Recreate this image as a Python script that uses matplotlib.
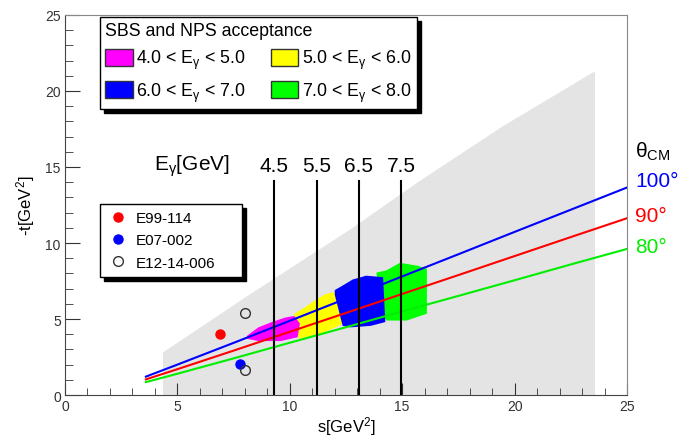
import matplotlib
matplotlib.use('Agg')
import matplotlib.pyplot as plt
from matplotlib.patches import Patch
from matplotlib.lines import Line2D

plt.rcParams['font.family'] = ['Liberation Sans', 'DejaVu Sans']
plt.rcParams['mathtext.fontset'] = 'custom'
plt.rcParams['mathtext.rm'] = 'Liberation Sans'
plt.rcParams['mathtext.it'] = 'Liberation Sans'
plt.rcParams['mathtext.bf'] = 'Liberation Sans:bold'

# kinematic coverage (grey band), upper edge
cov_s = [4.36, 8.0, 12.7, 15.8, 19.5, 23.58]
cov_t = [2.8, 6.4, 10.9, 14.1, 17.7, 21.3]

# theta_CM lines
line_s = [3.6, 5.0, 7.5, 10.0, 12.5, 15.0, 17.5, 20.0, 22.5, 25.0]
t_100 = [1.21, 2.00, 3.43, 4.88, 6.34, 7.80, 9.26, 10.73, 12.19, 13.65]
t_90 = [1.03, 1.70, 2.92, 4.16, 5.40, 6.65, 7.89, 9.14, 10.39, 11.63]
t_80 = [0.85, 1.40, 2.41, 3.44, 4.46, 5.50, 6.52, 7.55, 8.59, 9.61]

# SBS / NPS acceptance outlines per E_gamma bin
mag_s = [8.1, 8.6, 9.2, 9.8, 10.2, 10.45, 10.35, 9.6, 8.6, 8.1]
mag_t = [3.9, 4.45, 4.8, 5.1, 5.2, 4.7, 3.8, 3.55, 3.55, 3.7]
yel_s = [10.2, 10.6, 11.2, 11.6, 12.1, 12.4, 12.4, 11.5, 10.4]
yel_t = [5.35, 5.7, 6.3, 6.65, 6.8, 6.8, 4.7, 4.1, 3.7]
blu_s = [12.0, 12.0, 12.35, 12.8, 13.4, 14.15, 14.25, 13.6, 12.7, 12.35]
blu_t = [6.6, 6.9, 7.2, 7.6, 7.85, 7.75, 4.8, 4.55, 4.45, 4.55]
grn_s = [13.85, 14.3, 14.9, 15.7, 16.1, 16.1, 15.2, 14.3, 14.15]
grn_t = [8.05, 8.2, 8.7, 8.5, 8.3, 5.35, 4.9, 4.9, 5.2]

# beam energies and s
egam = ['4.5', '5.5', '6.5', '7.5']
egam_s = [9.32, 11.2, 13.07, 14.95]
vline_top = 14.1

# previous experiments
e99_s, e99_t = [6.9], [4.0]
e07_s, e07_t = [7.78], [2.04]
e12_s, e12_t = [8.0, 8.0], [5.39, 1.67]

fig = plt.figure(figsize=(6.79, 4.39), dpi=100)
ax = fig.add_axes([0.0957, 0.0979, 0.8277, 0.8657])

ax.fill(cov_s + [cov_s[-1], cov_s[0]], cov_t + [0, 0], color='#e4e4e4', lw=0, zorder=1)

ax.fill(grn_s, grn_t, color='#00ff00', lw=0, zorder=2)
ax.fill(yel_s, yel_t, color='#ffff00', lw=0, zorder=2)
ax.fill(blu_s, blu_t, color='#0000ff', lw=0, zorder=3)
ax.fill(mag_s, mag_t, color='#ff00ff', lw=0, zorder=3)

ax.plot(line_s, t_100, color='#0000ff', lw=1.5, zorder=4)
ax.plot(line_s, t_90, color='#ff0000', lw=1.5, zorder=4)
ax.plot(line_s, t_80, color='#00ee00', lw=1.5, zorder=4)

for s, e in zip(egam_s, egam):
    ax.plot([s, s], [0, vline_top], color='black', lw=1.5, zorder=5)
    ax.text(s, 15.1, e, ha='center', va='center', fontsize=15)
ax.text(5.65, 15.1, r'E$_{\gamma}$[GeV]', ha='center', va='center', fontsize=15)

ax.plot(e99_s, e99_t, 'o', color='#ff0000', ms=6.5, zorder=6)
ax.plot(e07_s, e07_t, 'o', color='#0000ff', ms=6.5, zorder=6)
ax.plot(e12_s, e12_t, 'o', mfc='none', mec='#333333', mew=1, ms=7, zorder=6)

ax.text(25.36, 16.07, r'$\theta_{\mathrm{CM}}$', ha='left', va='center', fontsize=15, clip_on=False)
ax.text(25.36, 14.08, '100°', color='#0000ff', ha='left', va='center', fontsize=15, clip_on=False)
ax.text(25.36, 11.8, '90°', color='#ff0000', ha='left', va='center', fontsize=15, clip_on=False)
ax.text(25.36, 9.76, '80°', color='#00ee00', ha='left', va='center', fontsize=15, clip_on=False)

ax.set_xlim(0, 25)
ax.set_ylim(0, 25)
ax.set_xticks(range(0, 26, 5))
ax.set_yticks(range(0, 26, 5))
ax.set_xticks(range(0, 26), minor=True)
ax.set_yticks(range(0, 26), minor=True)
ax.tick_params(which='both', direction='in', top=False, right=False, labelsize=10,
               colors='#333333', pad=3)
ax.tick_params(axis='x', which='major', length=9)
ax.tick_params(axis='x', which='minor', length=5)
ax.tick_params(axis='y', which='major', length=11)
ax.tick_params(axis='y', which='minor', length=6)
for side in ['left', 'bottom']:
    ax.spines[side].set_color('#444444')
for side in ['top', 'right']:
    ax.spines[side].set_color('#888888')
ax.set_xlabel(r's[GeV$^{2}$]', fontsize=12, labelpad=1)
ax.set_ylabel(r'-t[GeV$^{2}$]', fontsize=12, labelpad=6)

acc_handles = [Patch(fc='#ff00ff', ec='#333333'), Patch(fc='#0000ff', ec='#333333'),
               Patch(fc='#ffff00', ec='#333333'), Patch(fc='#00ff00', ec='#333333')]
acc_labels = [r'4.0 < E$_{\gamma}$ < 5.0', r'6.0 < E$_{\gamma}$ < 7.0',
              r'5.0 < E$_{\gamma}$ < 6.0', r'7.0 < E$_{\gamma}$ < 8.0']
leg1 = ax.legend(acc_handles, acc_labels, ncol=2, title='SBS and NPS acceptance',
                 title_fontsize=12.8, fontsize=12.8, alignment='left', mode='expand',
                 loc='upper left', bbox_to_anchor=(0.0623, 0.758, 0.564, 0.2367),
                 borderaxespad=0,
                 handlelength=1.55, handleheight=1.15, handletextpad=0.2,
                 columnspacing=1.0, labelspacing=0.5, borderpad=0.3,
                 fancybox=False, edgecolor='black', framealpha=1,
                 shadow={'color': 'black', 'alpha': 1, 'ox': 3, 'oy': -3})
leg1.get_frame().set_linewidth(1.0)
ax.add_artist(leg1)

exp_handles = [Line2D([], [], ls='', marker='o', color='#ff0000', ms=6.5),
               Line2D([], [], ls='', marker='o', color='#0000ff', ms=6.5),
               Line2D([], [], ls='', marker='o', mfc='none', mec='#333333', ms=7)]
leg2 = ax.legend(exp_handles, ['E99-114', 'E07-002', 'E12-14-006'], fontsize=11,
                 mode='expand', loc='upper left',
                 bbox_to_anchor=(0.0623, 0.313, 0.2527, 0.1895), borderaxespad=0,
                 handlelength=1.4, handletextpad=0.5, labelspacing=0.55, borderpad=0.45,
                 fancybox=False, edgecolor='black', framealpha=1,
                 shadow={'color': 'black', 'alpha': 1, 'ox': 3, 'oy': -3})
leg2.get_frame().set_linewidth(1.0)

fig.savefig('out.png', dpi=100)
